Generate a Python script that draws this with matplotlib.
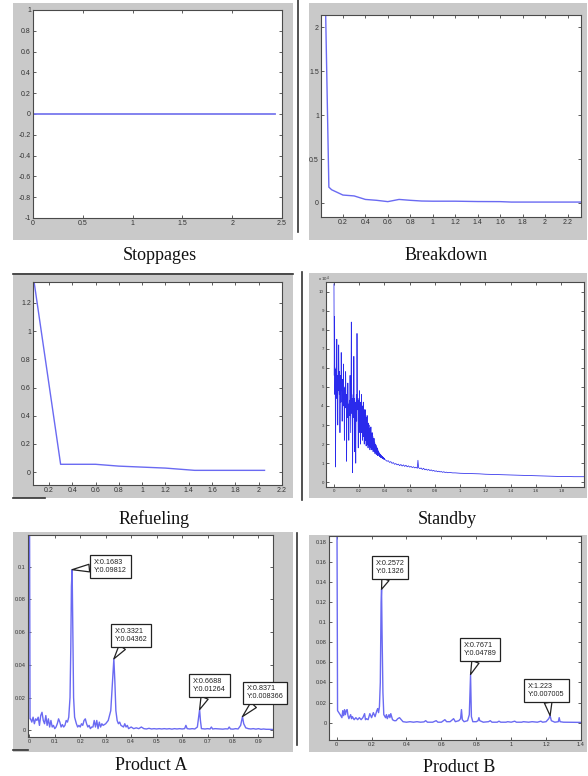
import matplotlib
matplotlib.use("Agg")
import numpy as np
import matplotlib.pyplot as plt
from matplotlib.patches import Rectangle
from matplotlib.lines import Line2D
from matplotlib.ticker import FormatStrFormatter

W, H = 588, 776

# ---------------- data ----------------
captions = ["Stoppages", "Breakdown", "Refueling", "Standby", "Product A", "Product B"]

stop_x = [0.0, 2.43]
stop_y = [0.0, 0.0]

brk_x = [0.04, 0.075, 0.1, 0.2, 0.3, 0.4, 0.5, 0.6, 0.7, 0.8, 0.9, 1.0, 1.2, 1.4, 1.6, 1.7, 1.8, 2.0, 2.2, 2.32]
brk_y = [2.6, 0.18, 0.15, 0.09, 0.08, 0.04, 0.03, 0.015, 0.04, 0.03, 0.022, 0.02, 0.02, 0.016, 0.015, 0.01, 0.01, 0.01, 0.01, 0.01]

ref_x = [0.06, 0.3, 0.6, 0.8, 1.0, 1.2, 1.45, 2.05]
ref_y = [1.42, 0.055, 0.055, 0.042, 0.035, 0.028, 0.012, 0.012]

stb_dense_y = [10.4, 5.6, 8.7, 4.6, 5.9, 0.8, 5.2, 6.0, 4.4, 7.5,
               5.0, 5.6, 3.0, 5.4, 4.8, 7.2, 5.2, 4.6, 5.8, 2.6,
               5.0, 5.6, 4.2, 6.8, 4.8, 5.3, 3.2, 4.9, 5.4, 4.0,
               6.2, 4.4, 4.9, 2.2, 4.6, 5.0, 3.9, 5.8, 4.2, 4.6,
               1.1, 4.0, 4.4, 3.4, 5.2, 3.8, 4.1, 2.2, 3.9, 4.3,
               3.5, 5.6, 4.2, 2.6, 4.8, 8.4, 5.0, 3.6, 4.4, 0.5,
               3.8, 4.6, 3.4, 6.6, 4.0, 4.4, 1.6, 4.2, 3.6, 1.0,
               4.0, 4.6, 3.2, 7.8, 4.8, 3.8, 4.4, 1.8, 3.9, 4.3,
               3.2, 4.8, 2.6, 4.2, 2.0, 4.0, 2.8, 4.6, 2.6, 3.8,
               2.2, 4.0, 2.6, 4.2, 2.4, 3.6, 2.0, 3.8, 2.4, 3.8,
               2.2, 3.4, 1.9, 3.4, 2.2, 3.5, 2.0, 3.0, 1.8, 3.1,
               2.0, 3.0, 1.9, 2.8, 1.7, 2.8, 1.9, 2.9, 1.8, 2.5,
               1.7, 2.6, 1.8, 2.4, 1.6, 2.3, 1.7, 2.3, 1.6, 2.1,
               1.5, 2.0, 1.55, 1.95, 1.45, 1.85, 1.5, 1.8, 1.4, 1.7,
               1.45, 1.6, 1.4, 1.55, 1.35, 1.5, 1.35, 1.45, 1.3, 1.42,
               1.3, 1.38, 1.27, 1.35, 1.25, 1.32, 1.23, 1.3, 1.2, 1.26,
               1.2]
stb_dense_x = np.linspace(0.0, 0.4, len(stb_dense_y))
stb_tail_x = [0.41, 0.42, 0.43, 0.44, 0.45, 0.46, 0.47, 0.48, 0.49, 0.50,
              0.51, 0.52, 0.53, 0.54, 0.55, 0.56, 0.57, 0.58, 0.59, 0.60,
              0.61, 0.62, 0.63, 0.64, 0.65, 0.66, 0.665, 0.67, 0.68, 0.69, 0.70,
              0.71, 0.72, 0.73, 0.74, 0.75, 0.76, 0.77, 0.78, 0.79, 0.80,
              0.81, 0.82, 0.83, 0.84, 0.85, 0.86, 0.87, 0.88, 0.89, 0.90,
              0.92, 0.94, 0.96, 0.98, 1.0, 1.05, 1.1, 1.15, 1.2, 1.25,
              1.3, 1.35, 1.4, 1.45, 1.5, 1.55, 1.6, 1.65, 1.7, 1.75,
              1.8, 1.85, 1.9, 1.95, 1.98]
stb_tail_y = [1.16, 1.1, 1.13, 1.04, 1.08, 0.99, 1.03, 0.94, 0.98, 0.91,
              0.95, 0.87, 0.93, 0.85, 0.91, 0.83, 0.89, 0.81, 0.86, 0.79,
              0.83, 0.77, 0.81, 0.75, 0.79, 0.73, 1.15, 0.77, 0.71, 0.75, 0.67,
              0.73, 0.65, 0.69, 0.63, 0.67, 0.61, 0.65, 0.59, 0.62, 0.57,
              0.6, 0.55, 0.58, 0.54, 0.56, 0.52, 0.55, 0.51, 0.53, 0.5,
              0.51, 0.49, 0.49, 0.48, 0.47, 0.46, 0.45, 0.44, 0.42, 0.41,
              0.4, 0.39, 0.38, 0.37, 0.36, 0.35, 0.34, 0.33, 0.32, 0.31,
              0.3, 0.3, 0.29, 0.29, 0.29]

pa_x = [0.0, 0.003, 0.005, 0.01, 0.015, 0.02, 0.025, 0.03, 0.035, 0.04, 0.045,
        0.05, 0.055, 0.06, 0.065, 0.07, 0.075, 0.08, 0.085, 0.09, 0.095,
        0.1, 0.105, 0.11, 0.115, 0.12, 0.125, 0.13, 0.135, 0.14, 0.145,
        0.15, 0.155, 0.16, 0.163, 0.1655, 0.1683, 0.171, 0.174, 0.178, 0.185,
        0.19, 0.195, 0.2, 0.205, 0.21, 0.215, 0.22, 0.225, 0.23, 0.235,
        0.24, 0.245, 0.25, 0.255, 0.26, 0.265, 0.27, 0.275, 0.28, 0.285,
        0.29, 0.3, 0.31, 0.32, 0.325, 0.3321, 0.336, 0.34, 0.345, 0.35,
        0.355, 0.36, 0.37, 0.375, 0.38, 0.385, 0.39, 0.4, 0.41, 0.42,
        0.43, 0.44, 0.45, 0.46, 0.47, 0.48, 0.49, 0.5, 0.51, 0.52,
        0.53, 0.54, 0.55, 0.56, 0.57, 0.58, 0.59, 0.6, 0.61, 0.615,
        0.62, 0.63, 0.64, 0.65, 0.66, 0.665, 0.6688, 0.672, 0.676, 0.69,
        0.7, 0.71, 0.715, 0.72, 0.73, 0.75, 0.76, 0.77, 0.78, 0.785,
        0.79, 0.8, 0.81, 0.82, 0.83, 0.8371, 0.842, 0.85, 0.86, 0.87,
        0.88, 0.89, 0.9, 0.91, 0.92, 0.93, 0.94, 0.957]
pa_y = [0.2, 0.007, 0.007, 0.005, 0.008, 0.004, 0.007, 0.006, 0.008, 0.003, 0.009,
        0.011, 0.006, 0.004, 0.009, 0.003, 0.007, 0.002, 0.006, 0.002, 0.003,
        0.001, 0.002, 0.004, 0.007, 0.005, 0.002, 0.0035, 0.002, 0.003, 0.006,
        0.005, 0.008, 0.02, 0.05, 0.088, 0.09812, 0.06, 0.02, 0.008, 0.004,
        0.002, 0.003, 0.002, 0.004, 0.003, 0.006, 0.007, 0.004, 0.002, 0.003,
        0.001, 0.002, 0.002, 0.006, 0.002, 0.006, 0.001, 0.005, 0.002, 0.004,
        0.003, 0.004, 0.006, 0.012, 0.025, 0.04362, 0.03, 0.012, 0.006, 0.004,
        0.005, 0.003, 0.002, 0.004, 0.002, 0.003, 0.001, 0.002, 0.001, 0.0015,
        0.001, 0.002, 0.001, 0.0008, 0.0012, 0.0008, 0.001, 0.0008, 0.001, 0.0008,
        0.001, 0.0008, 0.001, 0.0007, 0.001, 0.0008, 0.001, 0.0008, 0.001, 0.003,
        0.001, 0.0008, 0.001, 0.0008, 0.002, 0.008, 0.01264, 0.006, 0.001, 0.0008,
        0.001, 0.0008, 0.002, 0.0008, 0.001, 0.0008, 0.0007, 0.0009, 0.0008, 0.002,
        0.0008, 0.0007, 0.001, 0.0008, 0.003, 0.008366, 0.004, 0.0015, 0.001, 0.0008,
        0.001, 0.0007, 0.001, 0.0006, 0.0008, 0.0006, 0.0006, 0.0005]

pb_x = [0.0, 0.005, 0.02, 0.03, 0.035, 0.04, 0.045, 0.05, 0.055, 0.06,
        0.065, 0.07, 0.08, 0.085, 0.09, 0.1, 0.11, 0.12, 0.13, 0.14,
        0.15, 0.16, 0.165, 0.17, 0.18, 0.19, 0.2, 0.21, 0.22, 0.23,
        0.235, 0.24, 0.245, 0.25, 0.2545, 0.2572, 0.26, 0.265, 0.27, 0.28,
        0.285, 0.29, 0.3, 0.305, 0.31, 0.32, 0.33, 0.34, 0.35, 0.36,
        0.37, 0.38, 0.4, 0.42, 0.44, 0.46, 0.48, 0.5, 0.51, 0.52,
        0.55, 0.57, 0.58, 0.6, 0.62, 0.63, 0.65, 0.67, 0.68, 0.7,
        0.71, 0.715, 0.72, 0.73, 0.75, 0.76, 0.7671, 0.772, 0.78, 0.8,
        0.81, 0.815, 0.82, 0.84, 0.87, 0.88, 0.89, 0.92, 0.93, 0.94,
        0.97, 0.98, 1.0, 1.02, 1.03, 1.06, 1.07, 1.1, 1.12, 1.15,
        1.17, 1.18, 1.2, 1.215, 1.223, 1.23, 1.25, 1.27, 1.275, 1.28,
        1.3, 1.4]
pb_y = [0.3, 0.012, 0.008, 0.005, 0.012, 0.007, 0.013, 0.008, 0.012, 0.013,
        0.007, 0.004, 0.008, 0.004, 0.006, 0.003, 0.005, 0.003, 0.005, 0.003,
        0.005, 0.009, 0.003, 0.004, 0.003, 0.009, 0.005, 0.01, 0.006, 0.012,
        0.014, 0.01, 0.016, 0.04, 0.12, 0.1326, 0.09, 0.03, 0.008, 0.005,
        0.008, 0.004, 0.008, 0.005, 0.009, 0.003, 0.002, 0.002, 0.004, 0.005,
        0.003, 0.001, 0.0005, 0.001, 0.0005, 0.001, 0.0005, 0.0008, 0.002, 0.0005,
        0.0005, 0.002, 0.0005, 0.0005, 0.003, 0.001, 0.001, 0.004, 0.001, 0.002,
        0.004, 0.013, 0.003, 0.001, 0.002, 0.008, 0.04789, 0.006, 0.001, 0.001,
        0.002, 0.005, 0.002, 0.0005, 0.001, 0.002, 0.0005, 0.0005, 0.0015, 0.0005,
        0.0005, 0.001, 0.0005, 0.0015, 0.0005, 0.0005, 0.001, 0.0005, 0.001, 0.0005,
        0.0015, 0.0005, 0.001, 0.004, 0.007005, 0.002, 0.0005, 0.001, 0.005, 0.001,
        0.0005, 0.0003]

pa_peaks_x = [0.1683, 0.3321, 0.6688, 0.8371]
pa_peaks_y = [0.09812, 0.04362, 0.01264, 0.008366]
pa_labels = ["X:0.1683\nY:0.09812", "X:0.3321\nY:0.04362", "X:0.6688\nY:0.01264", "X:0.8371\nY:0.008366"]
pb_peaks_x = [0.2572, 0.7671, 1.223]
pb_peaks_y = [0.1326, 0.04789, 0.007005]
pb_labels = ["X:0.2572\nY:0.1326", "X:0.7671\nY:0.04789", "X:1.223\nY:0.007005"]

# ---------------- layout ----------------
plt.rcParams["font.family"] = ["Liberation Sans", "DejaVu Sans"]
fig = plt.figure(figsize=(5.88, 7.76), dpi=100, facecolor="white")
GRAY = "#c9c9c9"


def panel(gray, box):
    rect = Rectangle((gray[0] / W, 1 - gray[3] / H), (gray[2] - gray[0]) / W,
                     (gray[3] - gray[1]) / H, transform=fig.transFigure,
                     facecolor=GRAY, edgecolor="none", zorder=-5)
    fig.add_artist(rect)
    ax = fig.add_axes([box[0] / W, 1 - box[3] / H, (box[2] - box[0]) / W, (box[3] - box[1]) / H])
    ax.set_zorder(1)
    ax.set_facecolor("white")
    for s in ax.spines.values():
        s.set_color("#4a4a4a")
        s.set_linewidth(0.8)
    return ax, rect


def ticks(start, stop, step, nd):
    return [round(v, nd) + 0.0 for v in np.arange(start, stop + step / 2, step)]


def style(ax, rect, xt, yt, xl, yl, fs):
    ax.set_xlim(*xl)
    ax.set_ylim(*yl)
    ax.set_xticks(xt)
    ax.set_yticks(yt)
    ax.xaxis.set_major_formatter(FormatStrFormatter("%g"))
    ax.yaxis.set_major_formatter(FormatStrFormatter("%g"))
    ax.tick_params(direction="in", length=2.2, width=0.6, colors="#444444",
                   labelsize=fs, pad=1.5, top=True, right=True, labelcolor="#333333")
    for t in ax.yaxis.get_major_ticks() + ax.xaxis.get_major_ticks():
        t.label1.set_clip_path(rect)


LINE = "#6a6af2"

# Stoppages
ax, r = panel((13, 3, 293, 240), (33, 10, 282, 218))
ax.plot(stop_x, stop_y, color="#7878ee", lw=1.3)
style(ax, r, [0, 0.5, 1, 1.5, 2, 2.5], ticks(-1, 1, 0.2, 1), (0, 2.5), (-1, 1), 5)

# Breakdown
ax, r = panel((309, 3, 587, 240), (321, 15, 581, 217))
ax.plot(brk_x, brk_y, color=LINE, lw=1.0)
style(ax, r, ticks(0.2, 2.2, 0.2, 1), [0, 0.5, 1, 1.5, 2], (0.005, 2.32), (-0.16, 2.14), 5)

# Refueling
ax, r = panel((13, 273, 293, 498), (33, 282, 282, 485))
ax.plot(ref_x, ref_y, color=LINE, lw=1.0)
style(ax, r, ticks(0.2, 2.2, 0.2, 1), ticks(0, 1.2, 0.2, 1), (0.063, 2.2), (-0.092, 1.349), 5)

# Standby
ax, r = panel((309, 273, 587, 498), (326, 282, 584, 487))
ax.plot(list(stb_dense_x) + stb_tail_x, stb_dense_y + stb_tail_y, color="#2a2aec", lw=0.55)
style(ax, r, ticks(0, 1.8, 0.2, 1), list(range(0, 11)), (-0.063, 1.98), (-0.25, 10.5), 3.2)
fig.text(318 / W, 1 - 279 / H, r"x 10$^{4}$", fontsize=3.2, color="#333333", va="center")

# Product A
ax, r = panel((13, 532, 293, 752), (28, 535, 273, 737))
ax.plot(pa_x, pa_y, color=LINE, lw=1.0)
style(ax, r, ticks(0, 0.9, 0.1, 1), ticks(0, 0.1, 0.02, 2), (-0.005, 0.957), (-0.0041, 0.1193), 4)
pa_off = [(38, 3.5), (17, 23.6), (10, 23.8), (22.5, 23.6)]


def datatips(ax, px, py, labels, offs):
    for x, y, lab, off in zip(px, py, labels, offs):
        ax.annotate(lab, xy=(x, y), xytext=off, textcoords="offset pixels",
                    ha="center", va="center", multialignment="left",
                    fontsize=5.2, color="#222222", annotation_clip=False,
                    bbox=dict(boxstyle="square,pad=0.55", fc="white", ec="#222222", lw=0.9),
                    arrowprops=dict(arrowstyle="wedge,tail_width=0.55", fc="white", ec="#222222",
                                    lw=0.9, shrinkA=0, shrinkB=0, mutation_scale=10),
                    zorder=5)


datatips(ax, pa_peaks_x, pa_peaks_y, pa_labels, pa_off)

# Product B
ax, r = panel((309, 535, 587, 752), (329, 536, 581, 740))
ax.plot(pb_x, pb_y, color=LINE, lw=1.0)
style(ax, r, ticks(0, 1.4, 0.2, 1), ticks(0, 0.18, 0.02, 2), (-0.044, 1.4), (-0.0172, 0.1856), 4)
pb_off = [(8.4, 22), (9.4, 24.6), (-3.7, 25)]
datatips(ax, pb_peaks_x, pb_peaks_y, pb_labels, pb_off)

# captions
cap_pos = [(160, 256), (446, 256), (154, 519), (447, 519), (151, 766), (459, 767)]
for txt, (cx, cy) in zip(captions, cap_pos):
    fig.text(cx / W, 1 - cy / H, txt, ha="center", va="center", fontsize=13,
             family=["Liberation Serif", "DejaVu Serif"], color="#111111")

# screenshot window edges
edges = [((298, 298), (0, 232)), ((302, 302), (272, 500)), ((297, 297), (533, 745)),
         ((13, 293), (274, 274)), ((13, 45), (498, 498)), ((13, 28), (750, 750))]
for xs, ys in edges:
    fig.add_artist(Line2D([xs[0] / W, xs[1] / W], [1 - ys[0] / H, 1 - ys[1] / H],
                          transform=fig.transFigure, color="#333333", lw=1.2))

fig.savefig("out.png", dpi=100, facecolor="white")
